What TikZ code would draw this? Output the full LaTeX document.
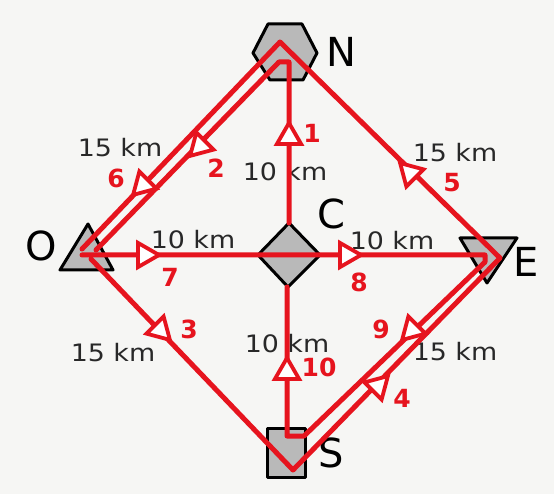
\documentclass[tikz,border=0pt]{standalone}
\usepackage{fontspec}
\setmainfont{DejaVu Sans}
\usetikzlibrary{shapes.geometric}
\definecolor{route}{RGB}{230,20,30}
\definecolor{shade}{RGB}{185,185,185}
\definecolor{paper}{RGB}{246,246,244}
\definecolor{ink}{RGB}{40,40,40}
\begin{document}
\begin{tikzpicture}[x=1pt,y=-1pt,
  place/.style={draw=black,line width=3pt,fill=shade,line join=round},
  letter/.style={font=\fontsize{40}{40}\selectfont,text=black,inner sep=0pt},
  dist/.style={font=\fontsize{24}{24}\selectfont,text=ink,xscale=1.12,inner sep=0pt},
  num/.style={font=\bfseries\fontsize{25}{25}\selectfont,text=route,inner sep=0pt},
  road/.style={draw=route,line width=5pt,line join=round,line cap=round},
  tri/.style={regular polygon,regular polygon sides=3,draw=route,line width=3.8pt,fill=white,inner sep=0pt,minimum size=28pt}]
\fill[paper] (0,0) rectangle (554,494);
% places
\draw[place] (268,24) -- (302,24) -- (317,53) -- (303,80) -- (270,80) -- (253,53) -- cycle;
\draw[place] (258,255) -- (289,223) -- (320,255) -- (288,287) -- cycle;
\draw[place] (88,224) -- (113,270) -- (60,270) -- cycle;
\draw[place] (460,238) -- (517,238) -- (487,283) -- cycle;
\draw[place] (267,428) rectangle (305,477);
% place letters
\node[letter] (lN) at (341,52) {N};
\node[letter] (lC) at (331,214) {C};
\node[letter] (lO) at (41,246) {O};
\node[letter] (lE) at (526,262) {E};
\node[letter] (lS) at (331,453) {S};
% distances
\node[dist] (dON) at (120,148) {15 km};
\node[dist] (dCN) at (285,172) {10 km};
\node[dist] (dNE) at (455,153) {15 km};
\node[dist] (dOC) at (193,240) {10 km};
\node[dist] (dCE) at (392,241) {10 km};
\node[dist] (dOS) at (113,353) {15 km};
\node[dist] (dSC) at (287,344) {10 km};
\node[dist] (dSE) at (455,352) {15 km};
% route points
\coordinate (Na) at (280,42);
\coordinate (Ni) at (279,62);
\coordinate (Nv) at (289,62);
\coordinate (Ct) at (289,223);
\coordinate (Cb) at (287,287);
\coordinate (Oo) at (82,249);
\coordinate (Oi) at (96,250);
\coordinate (Ol) at (82,255);
\coordinate (Os) at (91,259);
\coordinate (Sa) at (293,470);
\coordinate (Sv) at (287,436);
\coordinate (Sh) at (304,436);
\coordinate (Eo) at (500,258);
\coordinate (Eh) at (485,255);
\coordinate (Ei) at (485,262);
% roads
\draw[road] (Oo) -- (Na) -- (Eo) -- (Sa) -- (Os);
\draw[road] (Oi) -- (Ni) -- (Nv) -- (Ct);
\draw[road] (Ol) -- (Eh) -- (Ei) -- (Sh) -- (Sv) -- (Cb);
% direction marks
\node[tri,rotate=0] (a1) at (289,137) {};
\node[tri,rotate=135] (a2) at (200,146) {};
\node[tri,rotate=225] (a3) at (160,330) {};
\node[tri,rotate=-45] (a4) at (378,386) {};
\node[tri,rotate=45] (a5) at (410,173) {};
\node[tri,rotate=135] (a6) at (143,185) {};
\node[tri,rotate=-90] (a7) at (145,255) {};
\node[tri,rotate=-90] (a8) at (347,255) {};
\node[tri,rotate=135] (a9) at (412,330) {};
\node[tri,rotate=0] (a10) at (287,372) {};
% numbers
\node[num] (n1) at (312,133) {1};
\node[num] (n2) at (216,168) {2};
\node[num] (n3) at (189,329) {3};
\node[num] (n4) at (402,398) {4};
\node[num] (n5) at (452,183) {5};
\node[num] (n6) at (116,178) {6};
\node[num] (n7) at (170,277) {7};
\node[num] (n8) at (359,282) {8};
\node[num] (n9) at (381,329) {9};
\node[num] (n10) at (319,367) {10};
\end{tikzpicture}
\end{document}
